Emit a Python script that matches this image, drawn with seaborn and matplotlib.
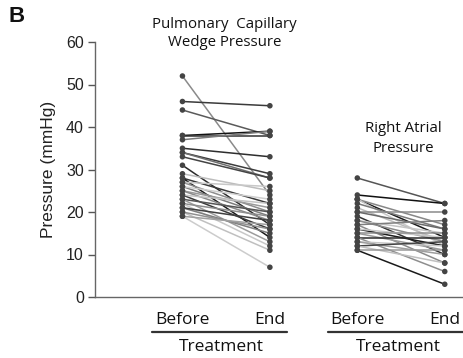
import matplotlib
matplotlib.use("Agg")
import matplotlib.pyplot as plt
import seaborn as sns
import pandas as pd

# Pulmonary capillary wedge pressure (mmHg), one entry per patient
pcwp_before = [52, 46, 44, 38, 38, 37, 35, 34, 34, 33, 31, 29, 28, 28, 27, 27,
               26, 26, 25, 25, 24, 24, 23, 23, 22, 22, 21, 21, 20, 20, 19, 19]
pcwp_end = [24, 45, 38, 39, 38, 39, 33, 29, 28, 28, 17, 25, 22, 14, 20, 26,
            19, 23, 21, 18, 16, 22, 20, 13, 19, 12, 15, 18, 11, 16, 7, 17]

# Right atrial pressure (mmHg), one entry per patient
rap_before = [28, 24, 23, 23, 23, 22, 21, 20, 20, 19, 18, 18, 17, 17, 16, 16,
              15, 15, 14, 14, 13, 13, 12, 12, 11, 11]
rap_end = [22, 22, 14, 17, 12, 16, 13, 20, 16, 10, 15, 13, 18, 8, 12, 14,
           15, 11, 14, 6, 12, 10, 13, 8, 3, 11]

timepoints = ["Before", "End"]
panel_titles = ["Pulmonary  Capillary\nWedge Pressure", "Right Atrial\nPressure"]
group_label = "Treatment"

# line shades per patient (grey levels)
pcwp_shades = ["#8a8a8a", "#3a3a3a", "#5a5a5a", "#111111", "#333333", "#7a7a7a",
               "#2e2e2e", "#3c3c3c", "#6e6e6e", "#444444", "#2a2a2a", "#bdbdbd",
               "#3a3a3a", "#1a1a1a", "#8c8c8c", "#c8c8c8", "#7c7c7c", "#cfcfcf",
               "#9a9a9a", "#8a8a8a", "#3a3a3a", "#c4c4c4", "#555555", "#9c9c9c",
               "#8e8e8e", "#c8c8c8", "#7e7e7e", "#404040", "#c0c0c0", "#909090",
               "#cccccc", "#a0a0a0"]
rap_shades = ["#555555", "#111111", "#1a1a1a", "#888888", "#c8c8c8", "#7a7a7a",
              "#bbbbbb", "#8a8a8a", "#6a6a6a", "#333333", "#c4c4c4", "#8c8c8c",
              "#7e7e7e", "#8a8a8a", "#1c1c1c", "#c8c8c8", "#909090", "#9a9a9a",
              "#2a2a2a", "#8e8e8e", "#c6c6c6", "#9e9e9e", "#444444", "#c0c0c0",
              "#1a1a1a", "#9a9a9a"]

rows = []
for i, (b, e) in enumerate(zip(pcwp_before, pcwp_end)):
    rows.append(dict(pid=f"P{i}", pos=0, value=b))
    rows.append(dict(pid=f"P{i}", pos=1, value=e))
for i, (b, e) in enumerate(zip(rap_before, rap_end)):
    rows.append(dict(pid=f"R{i}", pos=2, value=b))
    rows.append(dict(pid=f"R{i}", pos=3, value=e))
df = pd.DataFrame(rows)

palette = {f"P{i}": c for i, c in enumerate(pcwp_shades)}
palette.update({f"R{i}": c for i, c in enumerate(rap_shades)})

sns.set_style("white")
plt.rcParams["font.family"] = ["Liberation Sans", "DejaVu Sans"]
label_font = ["Open Sans", "DejaVu Sans"]

fig = plt.figure(figsize=(4.64, 3.58), dpi=100)
ax = fig.add_axes([95 / 464, 61 / 358, 1 - 95 / 464, 255 / 358])

sns.lineplot(data=df, x="pos", y="value", hue="pid", units="pid",
             estimator=None, palette=palette, linewidth=1.1, legend=False,
             ax=ax, zorder=2)
sns.scatterplot(data=df, x="pos", y="value", color="#444444", s=16,
                edgecolor="none", ax=ax, zorder=3, legend=False)

ax.set_xlim(-1, 3.22)
ax.set_ylim(0, 60)
ax.set_yticks(range(0, 61, 10))
ax.tick_params(axis="y", which="both", left=True, length=5, width=1,
               color="#555555", labelsize=11.5, pad=3, labelcolor="#222222")
ax.set_ylabel("Pressure (mmHg)", fontsize=12.5, color="#222222", labelpad=7)
ax.set_xlabel("")
ax.set_xticks([0, 1, 2, 3])
ax.set_xticklabels(timepoints * 2, fontsize=12.5, family=label_font,
                   color="#111111")
ax.tick_params(axis="x", length=0, pad=11)

sns.despine(ax=ax, top=True, right=True)
for side in ("left", "bottom"):
    ax.spines[side].set_color("#666666")
    ax.spines[side].set_linewidth(1.0)

xt = ax.get_xaxis_transform()
for x0, x1, xc in [(-0.35, 1.2, 0.45), (1.67, 3.22, 2.47)]:
    ax.plot([x0, x1], [-0.137, -0.137], transform=xt, color="#333333",
            linewidth=1.6, clip_on=False)
    ax.text(xc, -0.198, group_label, transform=xt, ha="center", va="center",
            fontsize=12.5, family=label_font, color="#111111")

ax.text(0.48, 1.032, panel_titles[0], transform=xt, ha="center", va="center",
        fontsize=10.8, family=label_font, color="#111111", linespacing=1.3)
ax.text(2.53, 0.62, panel_titles[1], transform=xt, ha="center", va="center",
        fontsize=10.8, family=label_font, color="#111111", linespacing=1.45)

fig.text(8 / 464, 1 - 16 / 358, "B", fontsize=16, fontweight="bold",
         ha="left", va="center", color="#111111")

fig.savefig("out.png", dpi=100)
